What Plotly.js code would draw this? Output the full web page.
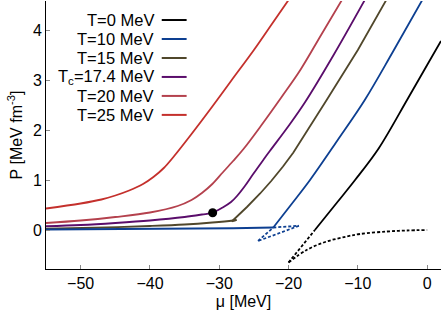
<!DOCTYPE html>
<html>
<head>
<meta charset="utf-8">
<script src="https://cdn.plot.ly/plotly-3.0.1.min.js"></script>
<style>html,body{margin:0;padding:0;background:#fff;}#chart{width:443px;height:311px;}</style>
</head>
<body>
<div id="chart"></div>
<script>
// ---- data ----
var legendLabels = ["T=0 MeV", "T=10 MeV", "T=15 MeV", "T<sub>c</sub>=17.4 MeV", "T=20 MeV", "T=25 MeV"];
var colors = ["#000000", "#0d3f91", "#50472b", "#5a0d6b", "#b4414d", "#c4302c"];

// T = 0
var muT0Stable = [-16.2, -13, -10.4, -7, -2.9, 0, 2];
var pT0Stable  = [0, 0.55, 1.0, 1.63, 2.6, 3.3, 3.78];
var muT0Meta   = [-20, -18, -16.2];
var pT0Meta    = [-0.65, -0.32, 0];
var muT0Unst   = [-20, -17.4, -14.5, -11.6, -9.7, -5.8, -3, 0];
var pT0Unst    = [-0.65, -0.4, -0.23, -0.13, -0.08, -0.03, -0.01, 0];

// T = 10
var muT10Gas     = [-55, -45, -35, -28, -22.2];
var pT10Gas      = [0.01, 0.015, 0.025, 0.035, 0.05];
var muT10GasMeta = [-22.2, -18.5];
var pT10GasMeta  = [0.05, 0.085];
var muT10Unst    = [-18.5, -21.4, -24.4];
var pT10Unst     = [0.085, -0.07, -0.22];
var muT10LiqMeta = [-24.4, -22.2];
var pT10LiqMeta  = [-0.22, 0.05];
var muT10Liq     = [-22.2, -19.5, -16.9, -13, -9, -5, -0.7];
var pT10Liq      = [0.05, 0.53, 1.0, 1.78, 2.6, 3.55, 4.6];

// T = 15
var muT15Gas = [-55, -48, -40, -35, -31, -28, -27.5];
var pT15Gas  = [0.025, 0.045, 0.08, 0.11, 0.15, 0.19, 0.2];
var muT15Liq = [-27.5, -28.2, -26, -24.1, -22.5, -20.8, -19.3, -17, -14.5, -10, -5.9];
var pT15Liq  = [0.2, 0.17, 0.46, 0.73, 0.98, 1.27, 1.55, 2.05, 2.6, 3.6, 4.6];

// Tc = 17.4
var muTc = [-55, -50, -45, -40, -35, -32.5, -30.95, -29.5, -28.3, -27.5, -26.3, -25.1, -23.6, -22.7, -20, -17.6, -13.5, -9];
var pTc  = [0.075, 0.1, 0.14, 0.19, 0.26, 0.31, 0.346, 0.45, 0.56, 0.67, 0.88, 1.12, 1.41, 1.58, 2.08, 2.56, 3.5, 4.6];
var muCrit = [-30.95];
var pCrit  = [0.346];

// T = 20
var muT20 = [-55, -50, -45, -40, -36, -34, -32.5, -31, -29.5, -28, -26.5, -24, -21, -18.3, -15.3, -12.3];
var pT20  = [0.14, 0.19, 0.26, 0.35, 0.48, 0.6, 0.74, 0.92, 1.15, 1.38, 1.62, 2.08, 2.66, 3.2, 3.9, 4.6];

// T = 25
var muT25 = [-55, -50, -47, -45, -43, -41, -39.5, -38, -36.5, -34, -31, -28.3, -25, -22.5, -20];
var pT25  = [0.43, 0.53, 0.61, 0.69, 0.79, 0.92, 1.06, 1.24, 1.48, 1.92, 2.47, 2.98, 3.6, 4.1, 4.6];

var xTicks = [-50, -40, -30, -20, -10, 0];
var yTicks = [0, 1, 2, 3, 4];

// ---- traces ----
var W = 1.8;
var DOT = "3px,2px";
function tr(x, y, color, dash, shape) {
  return {x: x, y: y, type: "scatter", mode: "lines", showlegend: false, hoverinfo: "skip",
          line: {color: color, width: W, dash: dash || "solid", shape: shape || "linear", smoothing: 1.0}};
}
var data = [
  tr(muT25, pT25, colors[5], null, "spline"),
  tr(muT20, pT20, colors[4], null, "spline"),
  tr(muTc, pTc, colors[3], null, "spline"),
  tr(muT15Gas, pT15Gas, colors[2], null, "spline"),
  tr(muT15Liq, pT15Liq, colors[2]),
  tr(muT10Gas, pT10Gas, colors[1]),
  tr(muT10GasMeta, pT10GasMeta, colors[1], DOT),
  tr(muT10Unst, pT10Unst, colors[1], DOT),
  tr(muT10LiqMeta, pT10LiqMeta, colors[1], DOT),
  tr(muT10Liq, pT10Liq, colors[1], null, "spline"),
  tr(muT0Meta, pT0Meta, colors[0], DOT),
  tr(muT0Unst, pT0Unst, colors[0], DOT, "spline"),
  tr(muT0Stable, pT0Stable, colors[0], null, "spline"),
  {x: muCrit, y: pCrit, type: "scatter", mode: "markers", showlegend: false, hoverinfo: "skip",
   marker: {color: "#000", size: 9}}
];

// ---- custom legend (text left of sample line) ----
var FONT_FAMILY = "Liberation Sans, Arial, sans-serif";
var annotations = [], shapes = [];
var ly0 = 0.929, ldy = 0.0708;
legendLabels.forEach(function (lab, i) {
  var yy = ly0 - i * ldy;
  annotations.push({xref: "paper", yref: "paper", x: 0.279, y: yy, xanchor: "right", yanchor: "middle",
    text: lab, showarrow: false, font: {family: FONT_FAMILY, size: 16.5, color: "#000"}});
  shapes.push({type: "line", xref: "paper", yref: "paper", x0: 0.293, x1: 0.356, y0: yy, y1: yy,
    line: {color: colors[i], width: 2}});
});

var font = {family: FONT_FAMILY, size: 16, color: "#000"};
var layout = {
  width: 443, height: 311,
  margin: {l: 46, r: 2, t: 1, b: 42},
  paper_bgcolor: "#fff", plot_bgcolor: "#fff",
  font: font,
  showlegend: false,
  xaxis: {range: [-55, 2.0], tickvals: xTicks, ticks: "inside", ticklen: 4, tickcolor: "#888",
          showline: true, linecolor: "#000", linewidth: 1, showgrid: false, zeroline: false,
          title: {text: "μ [MeV]", font: font, standoff: 4}, tickfont: font},
  yaxis: {range: [-0.78, 4.58], tickvals: yTicks, ticks: "inside", ticklen: 4, tickcolor: "#888",
          showline: true, linecolor: "#000", linewidth: 1, showgrid: false, zeroline: false,
          title: {text: "P [MeV fm<sup>-3</sup>]", font: font, standoff: 6}, tickfont: font},
  xaxis2: {overlaying: "x", matches: "x", side: "top", anchor: "y", tickvals: xTicks, ticks: "inside", ticklen: 4,
           tickcolor: "#888", showline: true, linecolor: "#999", showticklabels: false, showgrid: false, zeroline: false},
  yaxis2: {overlaying: "y", matches: "y", side: "right", anchor: "x", tickvals: yTicks, ticks: "inside", ticklen: 4,
           tickcolor: "#888", showline: true, linecolor: "#999", showticklabels: false, showgrid: false, zeroline: false},
  annotations: annotations,
  shapes: shapes
};
Plotly.newPlot("chart", data, layout, {staticPlot: true, displayModeBar: false});
</script>
</body>
</html>
